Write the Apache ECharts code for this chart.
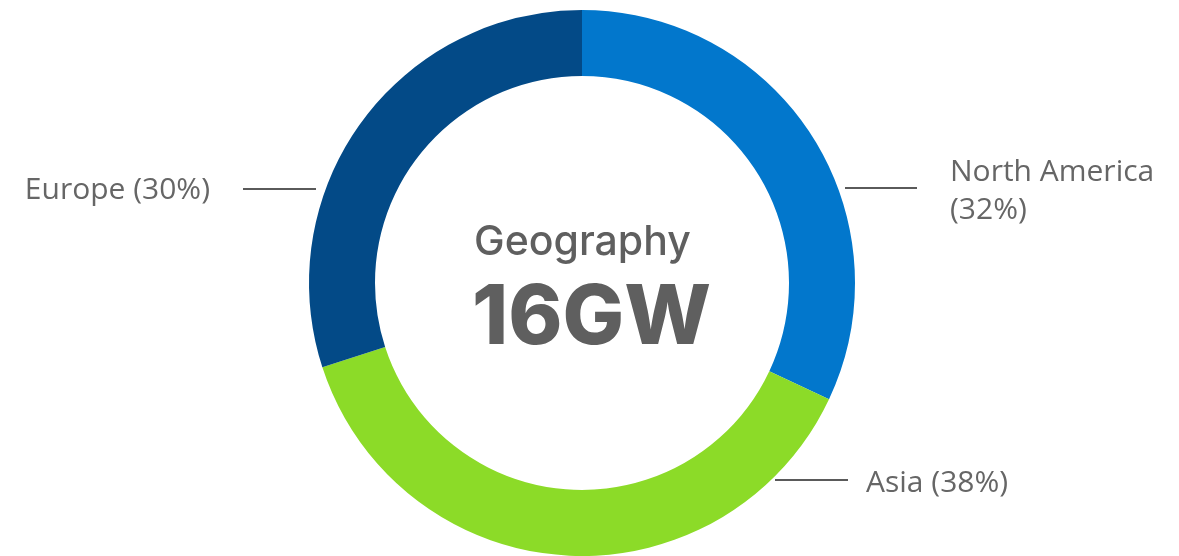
<!DOCTYPE html>
<html>
<head>
<meta charset="utf-8">
<script src="https://cdn.jsdelivr.net/npm/echarts@6/dist/echarts.min.js"></script>
<style>
  html, body { margin: 0; padding: 0; background: #fff; }
  #main { width: 1179px; height: 556px; }
</style>
</head>
<body>
<div id="main"></div>
<script>
// 数据
var regions = ['North America', 'Asia', 'Europe'];
var shares = [32, 38, 30];
var colors = ['#0277cc', '#8cdb28', '#034a87'];
var centerTitle = 'Geography';
var centerValue = '16GW';

var chart = echarts.init(document.getElementById('main'));

// 标签位置（手动摆放）
var labelPos = [
    { x: 950, y: 191, align: 'left', line: [[845, 188], [880, 188], [917, 188]] },
    { x: 866, y: 483, align: 'left', line: [[775, 480], [810, 480], [848, 480]] },
    { x: 210, y: 190, align: 'right', line: [[316, 189], [280, 189], [243, 189]] }
];

var option = {
    animation: false,
    color: colors,
    graphic: [
        {
            type: 'text', left: 474, top: 222,
            style: { text: centerTitle, font: '500 41px Inter', fill: '#5f5f5f' }
        },
        {
            type: 'text', left: 472, top: 278,
            style: { text: centerValue, font: '800 82px Inter', fill: '#5f5f5f' }
        }
    ],
    series: [{
        type: 'pie',
        center: [582, 283],
        radius: [207, 273],
        startAngle: 90,
        clockwise: true,
        label: {
            show: true,
            color: '#666',
            fontFamily: 'Open Sans',
            fontSize: 30,
            lineHeight: 38,
            formatter: function (p) {
                return p.name === 'North America' ? p.name + '\n(' + p.value + '%)' : p.name + ' (' + p.value + '%)';
            }
        },
        labelLine: {
            show: true,
            lineStyle: { color: '#5a5a5a', width: 2 }
        },
        labelLayout: function (params) {
            var lp = labelPos[params.dataIndex];
            return {
                x: lp.x,
                y: lp.y,
                align: lp.align,
                verticalAlign: 'middle',
                labelLinePoints: lp.line
            };
        },
        data: regions.map(function (r, i) {
            return { name: r, value: shares[i] };
        })
    }]
};
chart.setOption(option);
</script>
</body>
</html>
